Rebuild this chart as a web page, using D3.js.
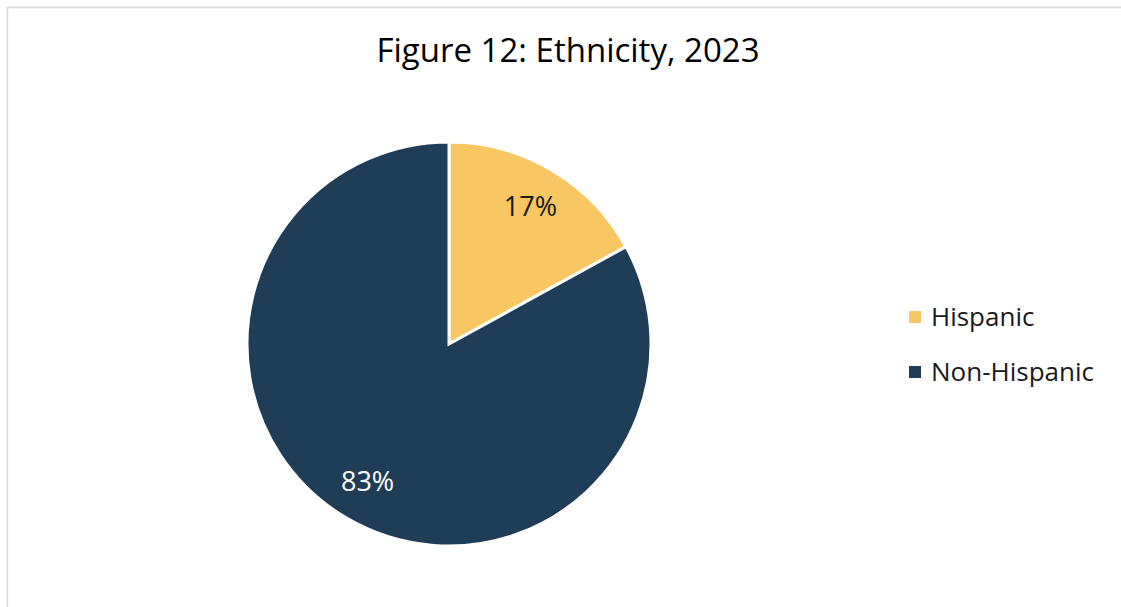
<!DOCTYPE html>
<html>
<head>
<meta charset="utf-8">
<script src="https://cdn.jsdelivr.net/npm/d3@7"></script>
<style>
  body { margin: 0; background: #fff; }
  text { font-family: "Open Sans", "Noto Sans", sans-serif; }
</style>
</head>
<body>
<div id="chart"></div>
<script>
const categories = ["Hispanic", "Non-Hispanic"];
const values = [17, 83];
const colors = ["#F8C662", "#1F3D57"];
const labelColors = ["#1a1a1a", "#ffffff"];

const width = 1121;
const height = 607;
const radius = 202;
const cx = 449, cy = 344; // pie centre

const svg = d3.select("#chart")
  .append("svg")
  .attr("width", width)
  .attr("height", height);

// chart frame (only top and left edges show in the crop)
svg.append("rect")
  .attr("x", 7.5)
  .attr("y", 7.5)
  .attr("width", width + 20)
  .attr("height", height + 20)
  .attr("fill", "none")
  .attr("stroke", "#d9d9d9")
  .attr("stroke-width", 1.5);

svg.append("text")
  .attr("x", 568)
  .attr("y", 62)
  .attr("text-anchor", "middle")
  .attr("font-size", 33)
  .attr("fill", "#000")
  .text("Figure 12: Ethnicity, 2023");

const data = categories.map((c, i) => ({ name: c, value: values[i] }));

const color = d3.scaleOrdinal().domain(categories).range(colors);
const textColor = d3.scaleOrdinal().domain(categories).range(labelColors);

const pie = d3.pie().sort(null).value(d => d.value);
const arc = d3.arc().outerRadius(radius).innerRadius(0);
const labelArc = d3.arc().outerRadius(160).innerRadius(160);

const g = svg.append("g")
  .attr("transform", `translate(${cx}, ${cy})`);

const arcs = g.selectAll(".arc")
  .data(pie(data))
  .enter().append("g")
  .attr("class", "arc");

arcs.append("path")
  .attr("d", arc)
  .attr("fill", d => color(d.data.name))
  .attr("stroke", "#fff")
  .attr("stroke-width", 3);

arcs.append("text")
  .attr("transform", d => `translate(${labelArc.centroid(d)})`)
  .attr("dy", "0.35em")
  .attr("text-anchor", "middle")
  .attr("font-size", 27)
  .attr("fill", d => textColor(d.data.name))
  .text(d => d.data.value + "%");

// legend
const legend = d3.scalePoint().domain(categories).range([317, 372]);

const items = svg.selectAll(".legend")
  .data(categories)
  .enter().append("g")
  .attr("class", "legend")
  .attr("transform", d => `translate(909, ${legend(d)})`);

items.append("rect")
  .attr("x", 0)
  .attr("y", -6)
  .attr("width", 12)
  .attr("height", 12)
  .attr("fill", d => color(d));

items.append("text")
  .attr("x", 22)
  .attr("dy", "0.35em")
  .attr("font-size", 26)
  .attr("fill", "#1a1a1a")
  .text(d => d);
</script>
</body>
</html>
